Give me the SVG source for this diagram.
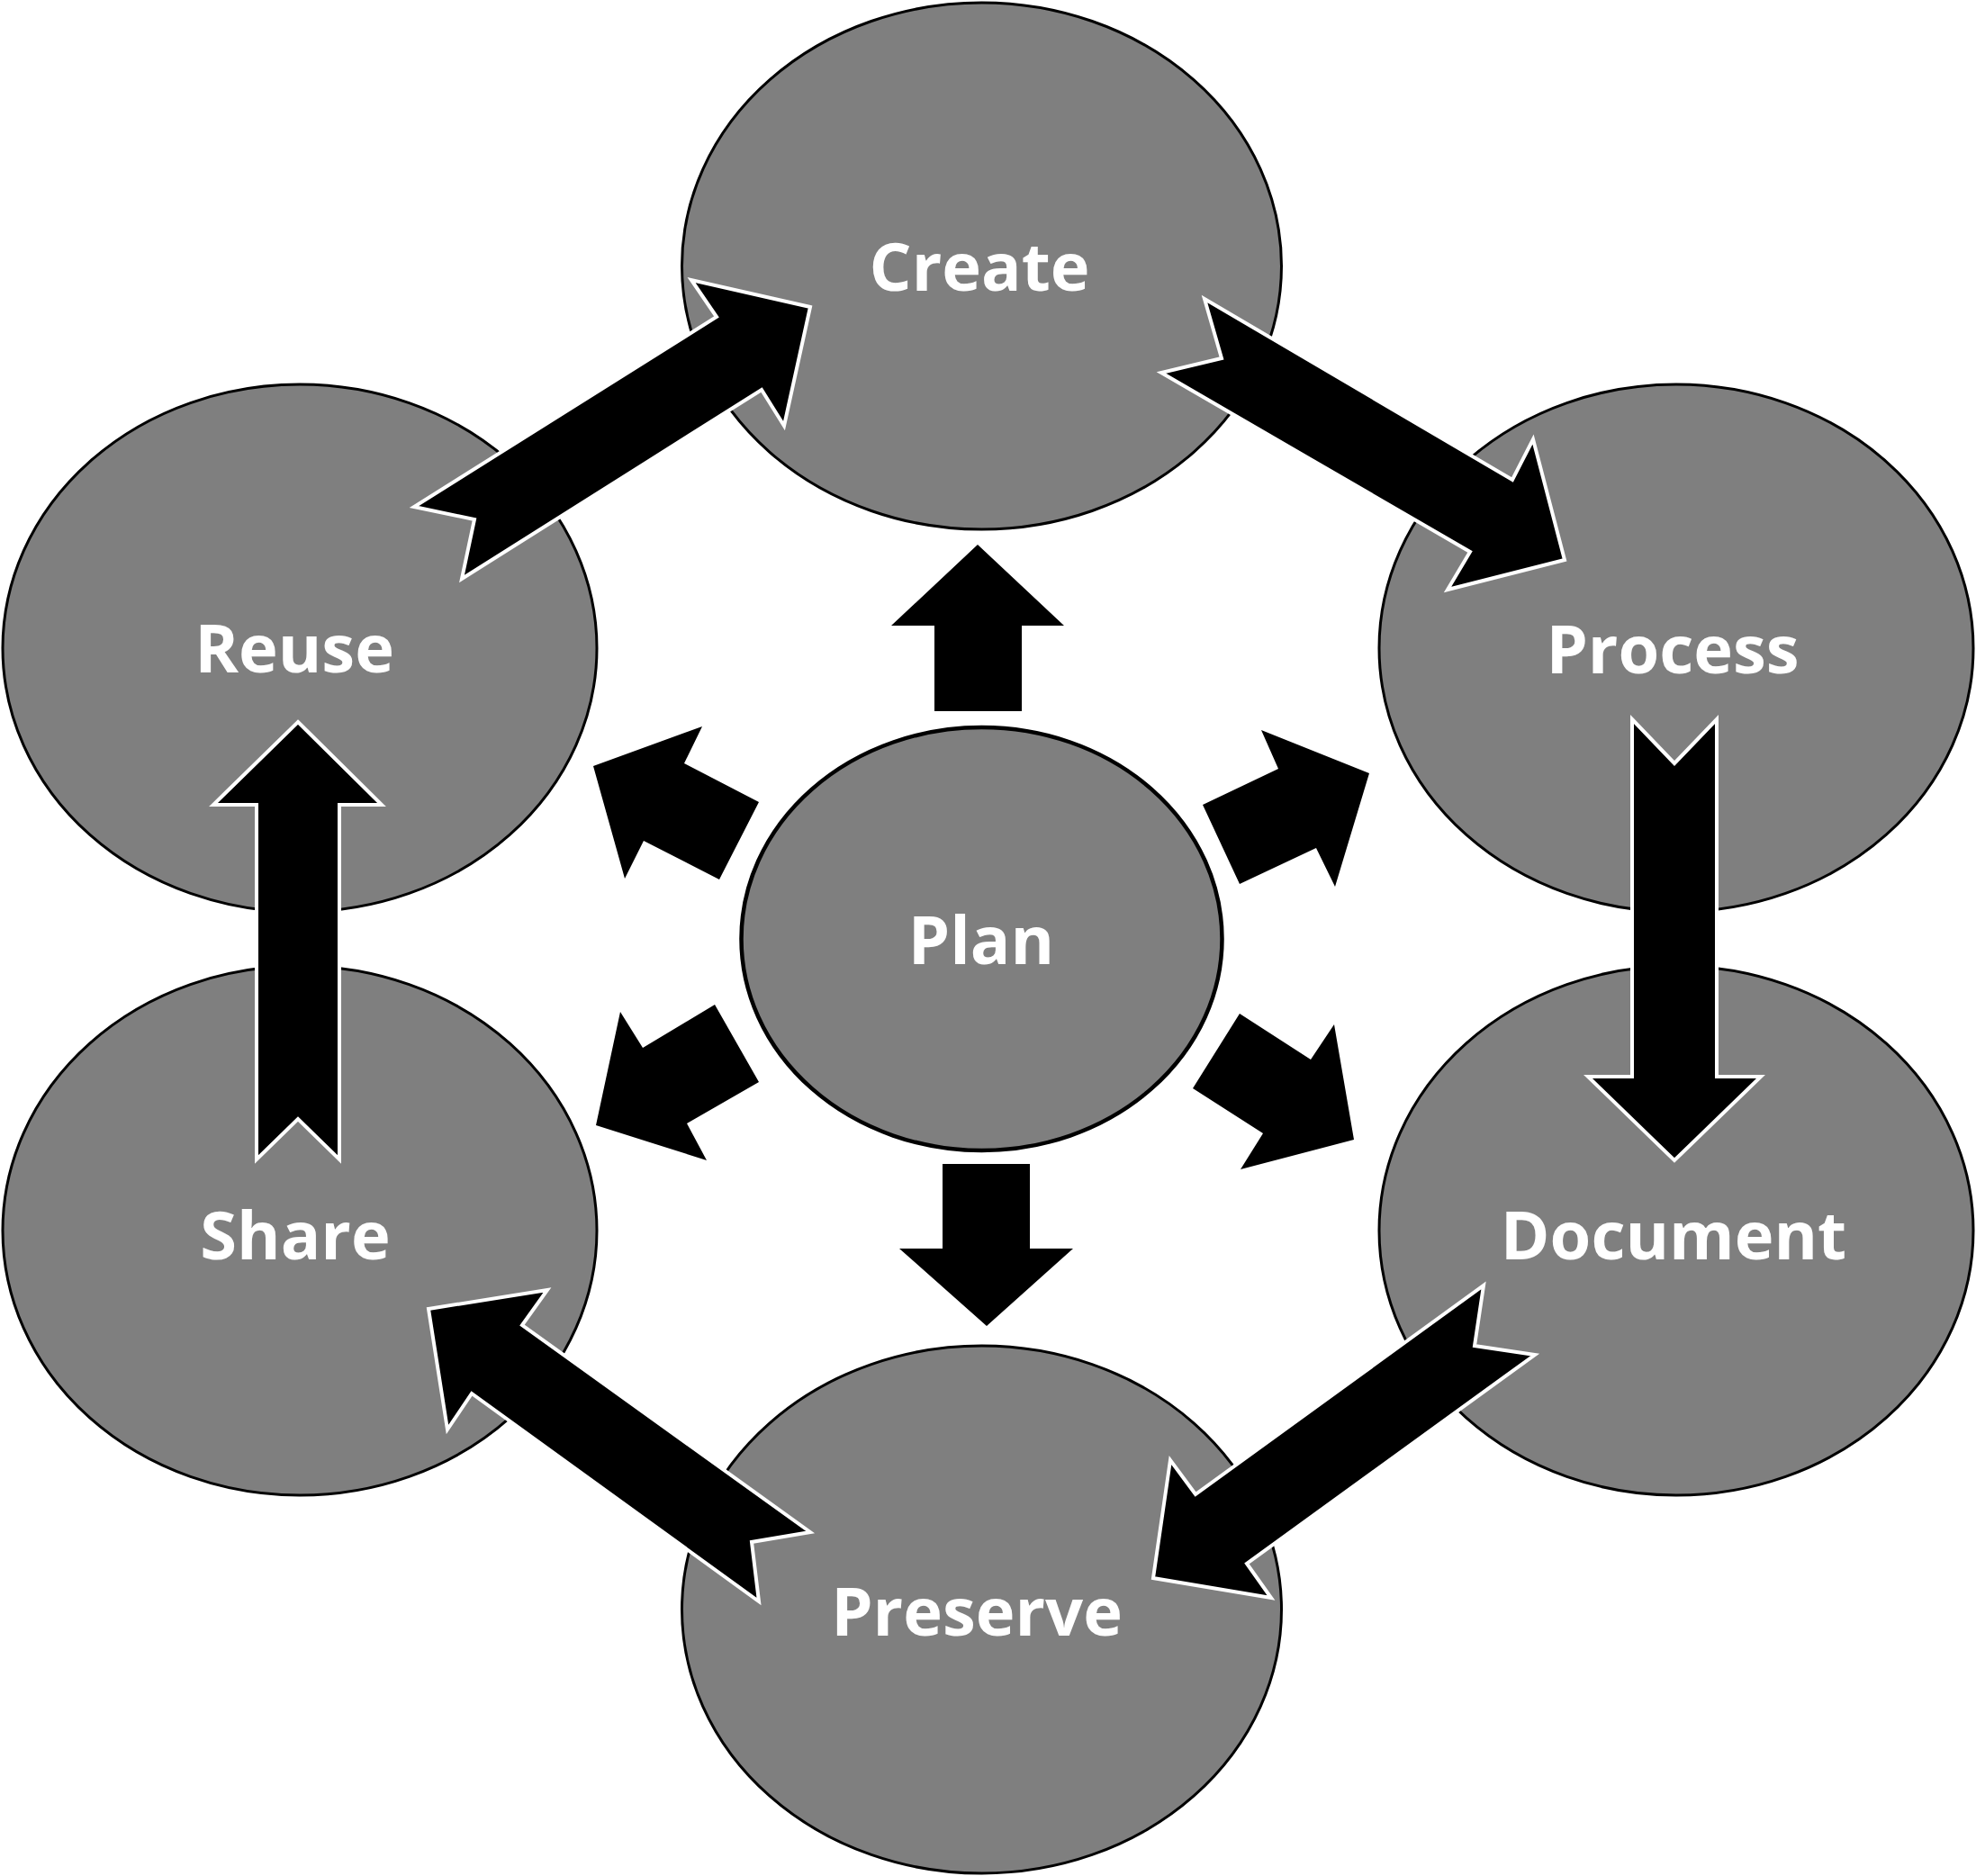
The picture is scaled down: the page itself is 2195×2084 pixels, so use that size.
<svg xmlns="http://www.w3.org/2000/svg" width="2195" height="2084" viewBox="0 0 2195 2084">
<style>
.node ellipse{fill:#7f7f7f;stroke:#000;stroke-width:3}
.plan ellipse{stroke-width:4.5}
.lbl{font-family:"Open Sans","Noto Sans",sans-serif;font-weight:bold;font-size:74px;fill:#fff;text-anchor:middle}
.big{fill:#000;stroke:#fff;stroke-width:4;stroke-linejoin:miter}
.small{fill:#000;stroke:none}
</style>
<rect width="2195" height="2084" fill="#fff"/>
<g id="node-create" class="node"><ellipse cx="1090.5" cy="295.5" rx="333" ry="292.5"/><text class="lbl" x="1088" y="323">Create</text></g>
<g id="node-process" class="node"><ellipse cx="1862" cy="720" rx="330" ry="293"/><text class="lbl" x="1858" y="748">Process</text></g>
<g id="node-document" class="node"><ellipse cx="1862" cy="1367" rx="330" ry="294"/><text class="lbl" x="1859" y="1399">Document</text></g>
<g id="node-preserve" class="node"><ellipse cx="1090.5" cy="1788" rx="333" ry="293"/><text class="lbl" x="1085" y="1817">Preserve</text></g>
<g id="node-share" class="node"><ellipse cx="333" cy="1367" rx="330" ry="294"/><text class="lbl" x="328" y="1399">Share</text></g>
<g id="node-reuse" class="node"><ellipse cx="333" cy="720" rx="330" ry="293"/><text class="lbl" x="327" y="747">Reuse</text></g>
<g id="node-plan" class="node plan"><ellipse cx="1090.5" cy="1043" rx="267" ry="235"/><text class="lbl" x="1090" y="1071">Plan</text></g>
<g id="connectors">
<polygon class="big" points="900,341 768,311 796,352 460,563 527,577 513,643 846,433 871,473"/>
<polygon class="big" points="1338,332 1357,398 1290,414 1633,613 1608,655 1738,622 1703,488 1680,533"/>
<polygon class="big" points="1813,799 1860,848 1907,799 1907,1196 1956,1196 1860,1289 1764,1196 1813,1196"/>
<polygon class="big" points="1648,1428 1638,1495 1705,1505 1385,1737 1412,1775 1281,1753 1300,1622 1328,1660"/>
<polygon class="big" points="476,1454 608,1433 580,1472 900,1702 835,1713 843,1779 524,1548 497,1588"/>
<polygon class="big" points="331,802 424,894 377,894 377,1288 331,1243 285,1288 285,894 237,894"/>
<polygon class="small" points="1086,605 1182,695 1135,695 1135,790 1038,790 1038,695 990,695"/>
<polygon class="small" points="1047,1293 1144,1293 1144,1387 1192,1387 1096,1473 999,1387 1047,1387"/>
<polygon class="small" points="659,851 780,807 760,848 843,891 799,977 715,934 694,976"/>
<polygon class="small" points="1401,811 1521,859 1483,985 1462,942 1377,982 1336,894 1420,854"/>
<polygon class="small" points="794,1116 843,1202 763,1248 785,1289 662,1250 689,1124 714,1164"/>
<polygon class="small" points="1377,1126 1325,1209 1403,1259 1378,1299 1504,1266 1482,1138 1456,1177"/>
</g>
</svg>
